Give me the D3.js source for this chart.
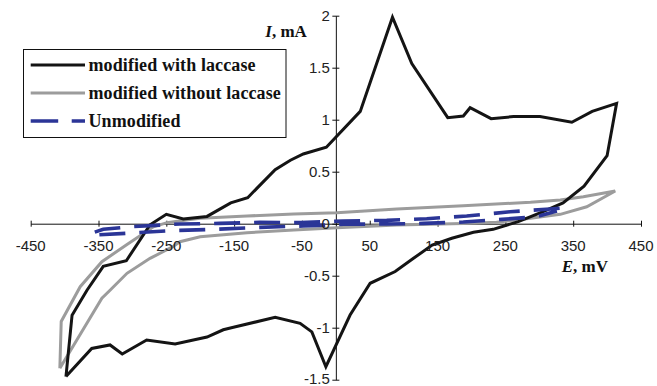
<!DOCTYPE html>
<html>
<head>
<meta charset="utf-8">
<script src="https://cdn.jsdelivr.net/npm/d3@7"></script>
<style>
  html, body { margin: 0; padding: 0; background: #fff; }
  svg { display: block; }
  .tick-label { font-family: "Liberation Sans", Arial, sans-serif; font-size: 15px; fill: #222; }
  .axis-title { font-family: "Liberation Serif", "Times New Roman", serif; font-size: 17px; font-weight: bold; fill: #111; }
  .legend-text { font-family: "Liberation Serif", "Times New Roman", serif; font-size: 18px; font-weight: bold; fill: #111; letter-spacing: 0.1px; }
</style>
</head>
<body>
<svg id="chart" width="657" height="386"></svg>
<script>
// Cyclic voltammograms: potential E (mV) vs current I (mA)

// Electrode modified with laccase
const withLaccaseE = [-398, -389, -367, -343, -309, -274, -250, -225, -190, -155, -130, -89.5, -67, -48, -14,
  36, 83.5, 112, 165, 188, 198, 229, 262, 301, 348, 378, 414,
  400, 366, 335, 303, 269, 232, 203, 171, 142, 114.5, 87.5, 50.6, 21, -14.7, -35.4, -52.7, -89.5,
  -151, -166, -190, -237, -279, -315, -333, -360, -398];
const withLaccaseI = [-1.47, -0.88, -0.64, -0.41, -0.356, -0.01, 0.09, 0.045, 0.07, 0.2, 0.25, 0.52, 0.61, 0.67, 0.735,
  1.08, 1.985, 1.54, 1.02, 1.035, 1.115, 1.01, 1.03, 1.03, 0.975, 1.08, 1.157,
  0.654, 0.36, 0.2, 0.11, 0.02, -0.054, -0.083, -0.14, -0.205, -0.333, -0.46, -0.573, -0.878, -1.375, -1.04, -0.958, -0.9,
  -0.996, -1.02, -1.09, -1.157, -1.118, -1.253, -1.166, -1.2, -1.47];

// Electrode modified without laccase
const withoutLaccaseE = [-407, -405, -377, -345, -308, -269, -249, -215, -200, -131, -62, 1.5, 90, 188, 287, 331, 365, 412,
  370, 331, 287, 237, 188, 90, 1.5, -62, -131, -200, -230, -240, -274, -308, -333, -345, -407];
const withoutLaccaseI = [-1.39, -0.94, -0.606, -0.365, -0.2, -0.03, 0.01, 0.04, 0.052, 0.074, 0.093, 0.106, 0.141, 0.173, 0.206, 0.228, 0.26, 0.314,
  0.163, 0.09, 0.052, 0.013, 0.003, -0.0125, -0.04, -0.06, -0.087, -0.125, -0.173, -0.22, -0.333, -0.477, -0.64, -0.717, -1.39];

// Unmodified electrode
const unmodifiedE = [330, 316, 257, 193, 134, 75, 11, -52, -112, -171, -230, -303, -343, -362,
  -357, -308, -244, -180, -112, -48, 11, 75, 129, 188, 245, 296, 326];
const unmodifiedI = [0.148, 0.141, 0.115, 0.074, 0.048, 0.032, 0.026, 0.01, 0.013, 0.003, -0.003, -0.029, -0.054, -0.095,
  -0.11, -0.092, -0.067, -0.054, -0.035, -0.022, -0.006, -0.003, 0.003, 0.016, 0.042, 0.067, 0.122];

const xTicks = [-450, -350, -250, -150, -50, 50, 150, 250, 350, 450];
const yTicks = [-1.5, -1, -0.5, 0, 0.5, 1, 1.5, 2];

const seriesNames = ["modified with laccase", "modified without laccase", "Unmodified"];

const svg = d3.select("#chart");

const x = d3.scaleLinear().domain([-450, 450]).range([30.7, 641]);
const y = d3.scaleLinear().domain([-1.5, 2]).range([379.7, 15.7]);

const series = [
  { name: seriesNames[0], E: withLaccaseE, I: withLaccaseI, color: "#141414", width: 3, dash: null },
  { name: seriesNames[1], E: withoutLaccaseE, I: withoutLaccaseI, color: "#9c9c9c", width: 3, dash: null },
  { name: seriesNames[2], E: unmodifiedE, I: unmodifiedI, color: "#2b3597", width: 3.6, dash: "26,14" }
];

// Axes crossing at the origin
const xAxis = svg.append("g").attr("transform", `translate(0,${y(0)})`)
  .call(d3.axisBottom(x).tickValues(xTicks).tickSize(0).tickFormat(""));
xAxis.select(".domain").attr("stroke", "#111").attr("stroke-width", 1);
xAxis.selectAll(".tick line").attr("y1", -3).attr("y2", 3).attr("stroke", "#111");

const yAxis = svg.append("g").attr("transform", `translate(${x(0)},0)`)
  .call(d3.axisLeft(y).tickValues(yTicks).tickSize(0).tickFormat(""));
yAxis.select(".domain").attr("stroke", "#111").attr("stroke-width", 1);
yAxis.selectAll(".tick line").attr("x1", -3.5).attr("x2", 3.5).attr("stroke", "#111");

// Curves
const line = d3.line().x(d => x(d[0])).y(d => y(d[1]));
const drawOrder = [series[1], series[0], series[2]];
drawOrder.forEach(s => {
  const pts = s.E.map((e, i) => [e, s.I[i]]);
  svg.append("path")
    .attr("d", line(pts))
    .attr("fill", "none")
    .attr("stroke", s.color)
    .attr("stroke-width", s.width)
    .attr("stroke-linejoin", "miter")
    .attr("stroke-dasharray", s.dash);
});

// Tick labels
svg.append("g").selectAll("text").data(xTicks).join("text")
  .attr("class", "tick-label")
  .attr("x", d => x(d))
  .attr("y", y(0) + 27.5)
  .attr("text-anchor", "middle")
  .text(d => String(d));

svg.append("g").selectAll("text").data(yTicks).join("text")
  .attr("class", "tick-label")
  .attr("x", x(0) - 6)
  .attr("y", d => Math.min(y(d) + 5.5, 384))
  .attr("text-anchor", "end")
  .text(d => String(d));

// Axis titles
const yTitle = svg.append("text").attr("class", "axis-title")
  .attr("x", x(0) - 29).attr("y", 37).attr("text-anchor", "end");
yTitle.append("tspan").attr("font-style", "italic").text("I");
yTitle.append("tspan").text(", mA");

const xTitle = svg.append("text").attr("class", "axis-title")
  .attr("x", 608).attr("y", 272).attr("text-anchor", "end");
xTitle.append("tspan").attr("font-style", "italic").text("E");
xTitle.append("tspan").text(", mV");

// Legend
const legend = svg.append("g");
legend.append("rect")
  .attr("x", 23.5).attr("y", 49.5).attr("width", 262.5).attr("height", 88)
  .attr("fill", "#fff").attr("stroke", "#111").attr("stroke-width", 1);
series.forEach((s, i) => {
  const cy = 65 + i * 28;
  legend.append("line")
    .attr("x1", 30.7).attr("x2", 85).attr("y1", cy).attr("y2", cy)
    .attr("stroke", s.color).attr("stroke-width", s.width)
    .attr("stroke-dasharray", s.dash ? "27.5,13.5" : null);
  legend.append("text").attr("class", "legend-text")
    .attr("x", 88.5).attr("y", cy + 6)
    .text(s.name);
});
</script>
</body>
</html>
